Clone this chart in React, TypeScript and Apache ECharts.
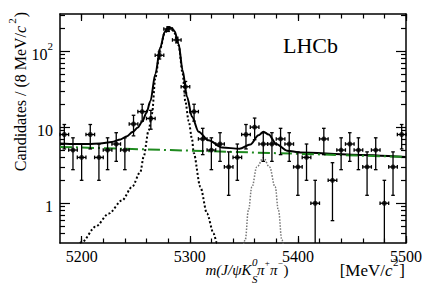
import React, { useEffect, useRef } from 'react';
import * as echarts from 'echarts';

// ---------------- data ----------------
const binCenters = [
  5184, 5192, 5200, 5208, 5216, 5224, 5232, 5240, 5248, 5256,
  5264, 5272, 5280, 5288, 5296, 5304, 5312, 5320, 5328, 5336,
  5344, 5352, 5360, 5368, 5376, 5384, 5392, 5400, 5408, 5416,
  5424, 5432, 5440, 5448, 5456, 5464, 5472, 5480, 5488, 5496,
];
const counts = [
  8, 5, 4, 8, 4, 5, 6, 5, 11, 16,
  13, 88, 195, 140, 34, 16, 7, 5, 6, 3,
  4, 8, 10, 6, 6, 7, 6, 3, 4, 1,
  7, 2, 5, 6, 5, 3, 5, 1, 3, 8,
];
const countErrors = [
  2.83, 2.24, 2.0, 2.83, 2.0, 2.24, 2.45, 2.24, 3.32, 4.0,
  3.61, 9.38, 13.96, 11.83, 5.83, 4.0, 2.65, 2.24, 2.45, 1.73,
  2.0, 2.83, 3.16, 2.45, 2.45, 2.65, 2.45, 1.73, 2.0, 1.0,
  2.65, 1.41, 2.24, 2.45, 2.24, 1.73, 2.24, 1.0, 1.73, 2.83,
];
const halfBinWidth = 4;

// total fit (solid black)
const totalFitMass = [
  5180, 5195, 5206, 5217, 5228, 5236, 5242, 5247, 5252, 5256,
  5260, 5263.6, 5268.2, 5272.8, 5276.8, 5279, 5281.5, 5284, 5286, 5289.7,
  5293.4, 5297.5, 5302.1, 5308.2, 5317.4, 5330, 5346, 5356, 5363.6, 5368.2,
  5373, 5380, 5390, 5402, 5450, 5500,
];
const totalFitValue = [
  6.1, 6.0, 6.0, 6.1, 6.4, 6.9, 7.6, 8.6, 9.9, 11.8,
  15.5, 22, 50, 112, 178, 198, 206, 196, 182, 124,
  56, 25, 13.7, 8.7, 6.7, 5.4, 5.2, 5.9, 7.8, 8.7,
  8.0, 6.0, 4.9, 4.65, 4.35, 4.06,
];
// B0 signal component (black dotted)
const b0Mass = [
  5189, 5200.5, 5212.8, 5225.1, 5237.4, 5246.7, 5254.3, 5257.4, 5262, 5265.1,
  5268.2, 5272.8, 5276.8, 5281.5, 5285.1, 5289.7, 5293.4, 5295.9, 5299, 5302.1,
  5303.6, 5309.8, 5316, 5322, 5325.2, 5330,
];
const b0Value = [
  0.2, 0.31, 0.49, 0.73, 1.09, 1.64, 2.58, 4.1, 9.1, 15.1,
  45, 109, 174, 200, 184, 119, 51, 22, 12, 7,
  4.6, 1.64, 0.73, 0.4, 0.3, 0.2,
];
// Bs signal component (grey dotted)
const bsMass = [5348, 5351.3, 5354.3, 5357.5, 5362.1, 5368.2, 5373.7, 5379, 5382, 5385.2, 5388];
const bsValue = [0.2, 0.33, 0.81, 1.64, 3.0, 3.95, 3.0, 1.64, 0.81, 0.33, 0.2];
// combinatorial background (green dash-dot)
const bkgMass = [5180, 5500];
const bkgValue = [5.5, 4.06];

// axis ticks
const xMajorTicks = [5200, 5300, 5400, 5500];
const xMinorTicks = [
  5200, 5220, 5240, 5260, 5280, 5300, 5320, 5340, 5360, 5380,
  5400, 5420, 5440, 5460, 5480, 5500,
];
const yMajorTicks = [1, 10, 100];
const yMinorTicks = [
  0.4, 0.5, 0.6, 0.7, 0.8, 0.9, 2, 3, 4, 5, 6, 7, 8, 9,
  20, 30, 40, 50, 60, 70, 80, 90, 200, 300,
];

const X_MIN = 5180;
const X_MAX = 5500;
const Y_MIN = 0.3;
const Y_MAX = 307;

const FONT = 'Liberation Serif';

const pairs = (xs: number[], ys: number[]) => xs.map((x, i) => [x, ys[i]]);

const txt = (
  text: string,
  x: number,
  y: number,
  size: number,
  italic: boolean,
  align: 'left' | 'right' | 'center' = 'left',
) => ({
  type: 'text',
  x,
  y,
  z: 100,
  style: {
    text,
    fontFamily: FONT,
    fontSize: size,
    fontStyle: italic ? 'italic' : 'normal',
    fill: '#000',
    align,
    verticalAlign: 'middle',
  },
});

export default function App() {
  const ref = useRef<HTMLDivElement>(null);

  useEffect(() => {
    if (!ref.current) return;
    const chart = echarts.init(ref.current, undefined, { renderer: 'svg' });

    const lineCol = '#000';
    const axisBase = {
      type: 'value' as const,
      min: X_MIN,
      max: X_MAX,
      splitLine: { show: false },
    };
    const tickLbl = { fontFamily: FONT, fontSize: 16, color: '#000' };

    const xAxes = [
      {
        ...axisBase,
        position: 'bottom',
        axisLine: { show: true, onZero: false, lineStyle: { color: lineCol, width: 1.5 } },
        axisTick: { show: true, inside: true, length: 7, customValues: xMajorTicks, lineStyle: { color: lineCol, width: 1.2 } },
        axisLabel: {
          show: true,
          customValues: xMajorTicks,
          margin: 5,
          formatter: (v: number) => String(Math.round(v)),
          ...tickLbl,
        },
      },
      {
        ...axisBase,
        position: 'bottom',
        axisLine: { show: false, onZero: false },
        axisTick: { show: true, inside: true, length: 4.5, customValues: xMinorTicks, lineStyle: { color: lineCol, width: 1.2 } },
        axisLabel: { show: false },
      },
      {
        ...axisBase,
        position: 'top',
        axisLine: { show: true, onZero: false, lineStyle: { color: lineCol, width: 1.5 } },
        axisTick: { show: true, inside: true, length: 7, customValues: xMajorTicks, lineStyle: { color: lineCol, width: 1.2 } },
        axisLabel: { show: false },
      },
      {
        ...axisBase,
        position: 'top',
        axisLine: { show: false, onZero: false },
        axisTick: { show: true, inside: true, length: 4.5, customValues: xMinorTicks, lineStyle: { color: lineCol, width: 1.2 } },
        axisLabel: { show: false },
      },
    ];

    const yBase = {
      type: 'log' as const,
      logBase: 10,
      min: Y_MIN,
      max: Y_MAX,
      splitLine: { show: false },
    };
    const yAxes = [
      {
        ...yBase,
        position: 'left',
        axisLine: { show: true, onZero: false, lineStyle: { color: lineCol, width: 1.5 } },
        axisTick: { show: true, inside: true, length: 10, customValues: yMajorTicks, lineStyle: { color: lineCol, width: 1.2 } },
        axisLabel: {
          show: true,
          customValues: yMajorTicks,
          margin: 7,
          formatter: (v: number) => (Math.round(v) === 100 ? '{b|10}{s|2}' : '{b|' + Math.round(v) + '}'),
          rich: {
            b: { fontFamily: FONT, fontSize: 16, color: '#000', lineHeight: 22, verticalAlign: 'bottom' },
            s: { fontFamily: FONT, fontSize: 11, color: '#000', lineHeight: 12, verticalAlign: 'top' },
          },
        },
      },
      {
        ...yBase,
        position: 'left',
        axisLine: { show: false, onZero: false },
        axisTick: { show: true, inside: true, length: 5, customValues: yMinorTicks, lineStyle: { color: lineCol, width: 1.2 } },
        axisLabel: { show: false },
      },
      {
        ...yBase,
        position: 'right',
        axisLine: { show: true, onZero: false, lineStyle: { color: lineCol, width: 1.5 } },
        axisTick: { show: true, inside: true, length: 10, customValues: yMajorTicks, lineStyle: { color: lineCol, width: 1.2 } },
        axisLabel: { show: false },
      },
      {
        ...yBase,
        position: 'right',
        axisLine: { show: false, onZero: false },
        axisTick: { show: true, inside: true, length: 5, customValues: yMinorTicks, lineStyle: { color: lineCol, width: 1.2 } },
        axisLabel: { show: false },
      },
    ];

    const pointData = binCenters.map((m, i) => [m, counts[i], countErrors[i]]);

    const errorBars = (params: any, api: any) => {
      const x = api.value(0);
      const y = api.value(1);
      const e = api.value(2);
      const c = api.coord([x, y]);
      const l = api.coord([x - halfBinWidth, y]);
      const r = api.coord([x + halfBinWidth, y]);
      const top = api.coord([x, y + e]);
      const lowVal = y - e;
      const bot = api.coord([x, lowVal > Y_MIN ? lowVal : Y_MIN]);
      const st = { stroke: '#000', lineWidth: 1.3 };
      const cap = 1.8;
      const children: any[] = [
        { type: 'line', shape: { x1: l[0], y1: c[1], x2: r[0], y2: c[1] }, style: st },
        { type: 'line', shape: { x1: c[0], y1: top[1], x2: c[0], y2: bot[1] }, style: st },
        { type: 'line', shape: { x1: l[0], y1: c[1] - cap, x2: l[0], y2: c[1] + cap }, style: st },
        { type: 'line', shape: { x1: r[0], y1: c[1] - cap, x2: r[0], y2: c[1] + cap }, style: st },
        { type: 'line', shape: { x1: c[0] - cap, y1: top[1], x2: c[0] + cap, y2: top[1] }, style: st },
      ];
      if (lowVal > Y_MIN) {
        children.push({ type: 'line', shape: { x1: c[0] - cap, y1: bot[1], x2: c[0] + cap, y2: bot[1] }, style: st });
      }
      return { type: 'group', children };
    };

    const ttl = { fontFamily: FONT, fontSize: 16, color: '#000', fill: '#000' };
    const richTitle = {
      n: { ...ttl, lineHeight: 22, verticalAlign: 'bottom' },
      i: { ...ttl, fontStyle: 'italic', lineHeight: 22, verticalAlign: 'bottom' },
      s: { ...ttl, fontSize: 11, lineHeight: 12, verticalAlign: 'top', padding: [0, 1, 0, 2] },
    };
    const richUnit = {
      n: { ...ttl, fontSize: 17 },
      i: { ...ttl, fontSize: 17, fontStyle: 'italic' },
    };

    const option: any = {
      animation: false,
      grid: { left: 60, right: 21, top: 14, bottom: 47, containLabel: false },
      xAxis: xAxes,
      yAxis: yAxes,
      series: [
        {
          type: 'line',
          data: pairs(b0Mass, b0Value),
          smooth: 0.3,
          smoothMonotone: 'x',
          showSymbol: false,
          clip: true,
          lineStyle: { color: '#000', width: 2, type: [2, 2.2] },
          z: 2,
        },
        {
          type: 'line',
          data: pairs(bsMass, bsValue),
          smooth: 0.4,
          smoothMonotone: 'x',
          showSymbol: false,
          clip: true,
          lineStyle: { color: '#777', width: 1.5, type: [1.5, 1.5] },
          z: 2,
        },
        {
          type: 'line',
          data: pairs(totalFitMass, totalFitValue),
          smooth: 0.3,
          smoothMonotone: 'x',
          showSymbol: false,
          clip: true,
          lineStyle: { color: '#000', width: 2 },
          z: 3,
        },
        {
          type: 'line',
          data: pairs(bkgMass, bkgValue),
          showSymbol: false,
          clip: true,
          lineStyle: { color: '#1f8a1f', width: 2, type: [12, 4, 2, 4] },
          z: 4,
        },
        {
          type: 'custom',
          data: pointData,
          renderItem: errorBars,
          encode: { x: 0, y: 1 },
          z: 5,
        },
        {
          type: 'scatter',
          data: pointData.map((d) => [d[0], d[1]]),
          symbol: 'circle',
          symbolSize: 5,
          itemStyle: { color: '#000' },
          z: 6,
        },
      ],
      graphic: [
        txt('LHCb', 310.5, 45, 22, false, 'center'),
        {
          type: 'text',
          x: 17,
          y: 12,
          rotation: Math.PI / 2,
          style: {
            text: '{n|Candidates / (8 MeV/}{i|c}{s|2}{n|)}',
            align: 'right',
            verticalAlign: 'middle',
            rich: richTitle,
          },
        },
        // x-axis title, piece by piece
        txt('m(J/ψK', 251.5, 270, 15, true, 'right'),
        txt('0', 252, 262, 11, true),
        txt('S', 252, 279, 11, true),
        txt('π', 257, 270, 15, true),
        txt('+', 264.8, 263, 9, false),
        txt('π', 270, 270, 15, true),
        txt('−', 277.8, 263, 9, false),
        txt(')', 283.5, 270, 15, false),
        txt(']', 405, 270, 17, false, 'right'),
        txt('2', 398.5, 262, 11, false, 'right'),
        {
          type: 'text',
          x: 392.5,
          y: 270,
          z: 100,
          style: {
            text: '{n|[MeV/}{i|c}',
            align: 'right',
            verticalAlign: 'middle',
            rich: richUnit,
          },
        },
      ],
    };

    chart.setOption(option);
    return () => chart.dispose();
  }, []);

  return (
    <div
      ref={ref}
      style={{ position: 'fixed', left: 0, top: 0, width: 427, height: 290, background: '#fff' }}
    />
  );
}
